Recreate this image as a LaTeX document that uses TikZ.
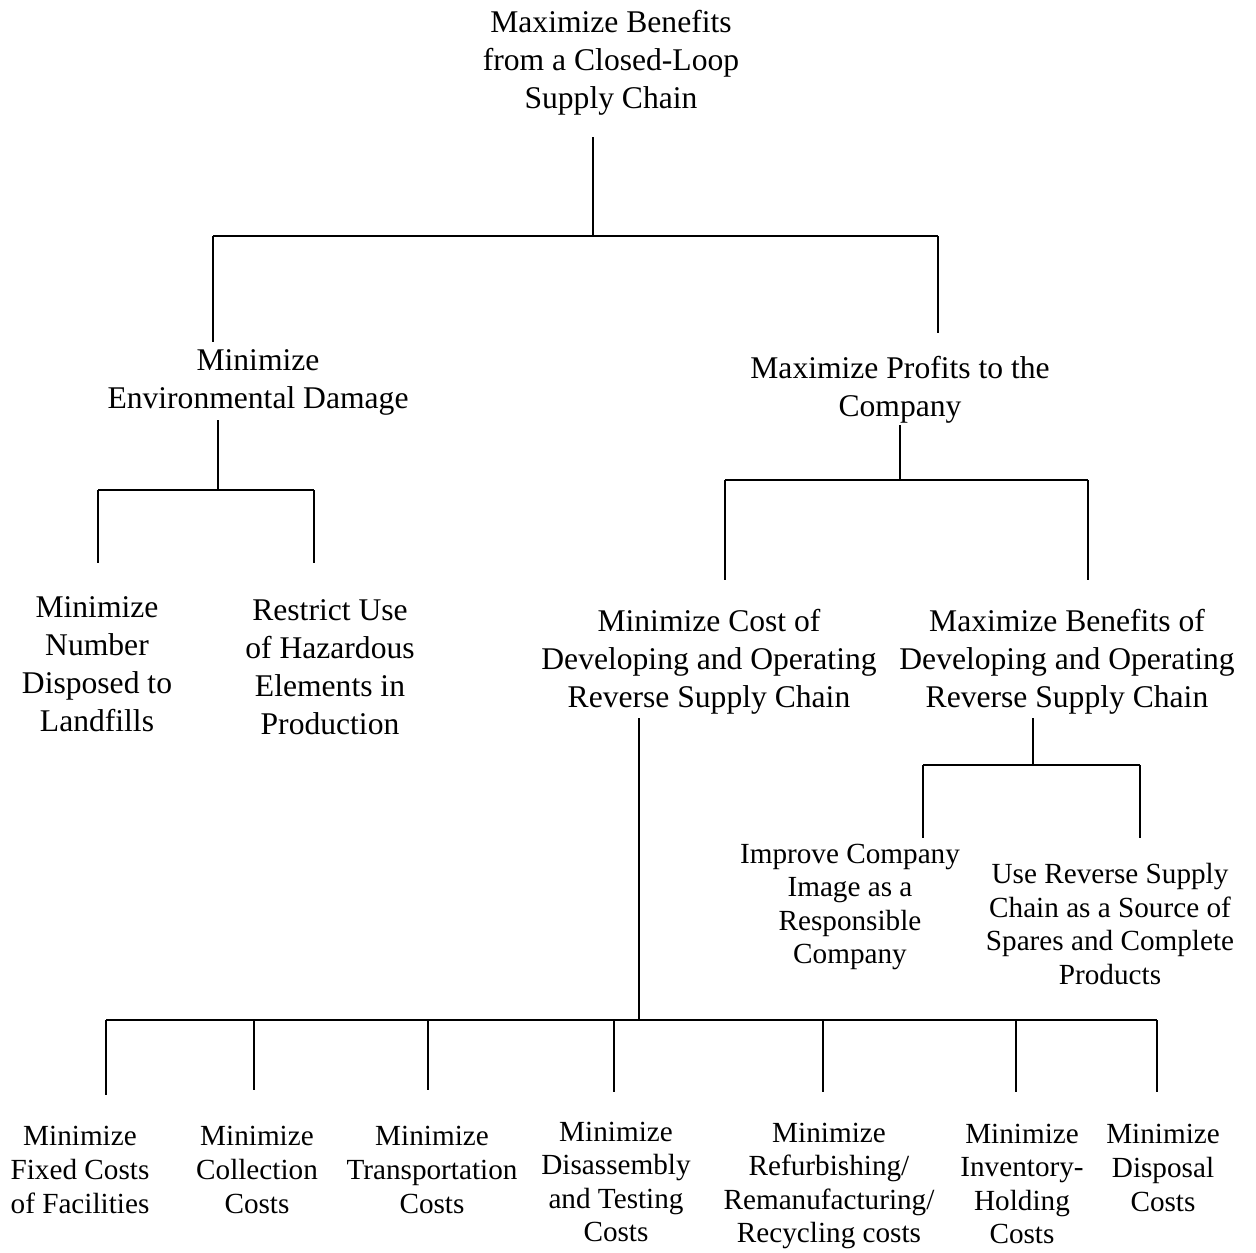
\documentclass[tikz,border=0pt]{standalone}
\usepackage{fontspec}
\setmainfont{Liberation Serif}
\usepackage{tikz}
\usetikzlibrary{positioning}

\tikzset{
	goal/.style={align=center, inner sep=0pt, font=\fontsize{15.8}{19}\selectfont},
	subgoal/.style={align=center, inner sep=0pt, font=\fontsize{14.6}{16.8}\selectfont},
	link/.style={line width=1pt}
}

\begin{document}
\begin{tikzpicture}[x=0.5pt,y=-0.5pt]
	\useasboundingbox (0,0) rectangle (1256,1252);
	
	\node[goal] (root) at (611,63) {Maximize Benefits\\from a Closed-Loop\\Supply Chain};
	\node[goal] (env) at (258,382) {Minimize\\Environmental Damage};
	\node[goal] (prof) at (900,390) {Maximize Profits to the\\Company};
	\node[goal] (land) at (97,664) {Minimize\\Number\\Disposed to\\Landfills};
	\node[goal] (haz) at (330,667) {Restrict Use\\of Hazardous\\Elements in\\Production};
	\node[goal] (cost) at (709,662) {Minimize Cost of\\Developing and Operating\\Reverse Supply Chain};
	\node[goal] (ben) at (1067,662) {Maximize Benefits of\\Developing and Operating\\Reverse Supply Chain};
	\node[subgoal] (image) at (850,907) {Improve Company\\Image as a\\Responsible\\Company};
	\node[subgoal] (spare) at (1110,924) {Use Reverse Supply\\Chain as a Source of\\Spares and Complete\\Products};
	
	\node[subgoal] (fixed) at (80,1170) {Minimize\\Fixed Costs\\of Facilities};
	\node[subgoal] (coll) at (257,1170) {Minimize\\Collection\\Costs};
	\node[subgoal] (trans) at (432,1170) {Minimize\\Transportation\\Costs};
	\node[subgoal] (dis) at (616,1182) {Minimize\\Disassembly\\and Testing\\Costs};
	\node[subgoal] (ref) at (829,1186) {Minimize\\Refurbishing/\\Remanufacturing/\\Recycling costs};
	\node[subgoal] (inv) at (1022,1184) {Minimize\\Inventory-\\Holding\\Costs};
	\node[subgoal] (disp) at (1163,1168) {Minimize\\Disposal\\Costs};
	
	% junction points
	\coordinate (root-s) at (593,137);
	\coordinate (root-j) at (593,236);
	\coordinate (env-n) at (213,342);
	\coordinate (env-j) at (213,236);
	\coordinate (prof-n) at (938,333);
	\coordinate (prof-j) at (938,236);
	
	\coordinate (env-s) at (218,420);
	\coordinate (env-b) at (218,490);
	\coordinate (land-n) at (98,563);
	\coordinate (land-j) at (98,490);
	\coordinate (haz-n) at (314,563);
	\coordinate (haz-j) at (314,490);
	
	\coordinate (prof-s) at (900,425);
	\coordinate (prof-b) at (900,480);
	\coordinate (cost-n) at (725,580);
	\coordinate (cost-j) at (725,480);
	\coordinate (ben-n) at (1088,580);
	\coordinate (ben-j) at (1088,480);
	
	\coordinate (ben-s) at (1033,718);
	\coordinate (ben-b) at (1033,765);
	\coordinate (image-n) at (923,838);
	\coordinate (image-j) at (923,765);
	\coordinate (spare-n) at (1140,838);
	\coordinate (spare-j) at (1140,765);
	
	\coordinate (cost-s) at (639,718);
	\coordinate (cost-b) at (639,1020);
	\coordinate (fixed-j) at (106,1020);
	\coordinate (fixed-n) at (106,1095);
	\coordinate (coll-j) at (254,1020);
	\coordinate (coll-n) at (254,1090);
	\coordinate (trans-j) at (428,1020);
	\coordinate (trans-n) at (428,1090);
	\coordinate (dis-j) at (614,1020);
	\coordinate (dis-n) at (614,1092);
	\coordinate (ref-j) at (823,1020);
	\coordinate (ref-n) at (823,1092);
	\coordinate (inv-j) at (1016,1020);
	\coordinate (inv-n) at (1016,1092);
	\coordinate (disp-j) at (1157,1020);
	\coordinate (disp-n) at (1157,1092);
	
	\path [link] (root-s) edge (root-j);
	\path [link] (env-j) edge (prof-j);
	\path [link] (env-j) edge (env-n);
	\path [link] (prof-j) edge (prof-n);
	
	\path [link] (env-s) edge (env-b);
	\path [link] (land-j) edge (haz-j);
	\path [link] (land-j) edge (land-n);
	\path [link] (haz-j) edge (haz-n);
	
	\path [link] (prof-s) edge (prof-b);
	\path [link] (cost-j) edge (ben-j);
	\path [link] (cost-j) edge (cost-n);
	\path [link] (ben-j) edge (ben-n);
	
	\path [link] (ben-s) edge (ben-b);
	\path [link] (image-j) edge (spare-j);
	\path [link] (image-j) edge (image-n);
	\path [link] (spare-j) edge (spare-n);
	
	\path [link] (cost-s) edge (cost-b);
	\path [link] (fixed-j) edge (disp-j);
	\foreach \n in {fixed,coll,trans,dis,ref,inv,disp}
		\path [link] (\n-j) edge (\n-n);
\end{tikzpicture}
\end{document}
